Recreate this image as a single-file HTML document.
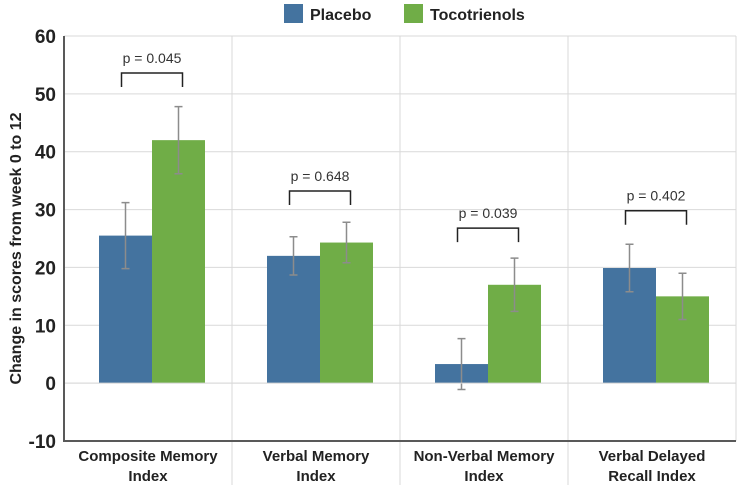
<!DOCTYPE html>
<html><head><meta charset="utf-8"><style>
body{margin:0;background:#fff;font-family:"Liberation Sans",sans-serif}
</style></head><body>
<svg id="chart" width="738" height="490" xmlns="http://www.w3.org/2000/svg"></svg>
<script>
const categories=[["Composite Memory","Index"],["Verbal Memory","Index"],["Non-Verbal Memory","Index"],["Verbal Delayed","Recall Index"]];
const placebo=[25.5,22,3.3,19.9];
const placeboErr=[5.7,3.3,4.4,4.1];
const toco=[42,24.3,17,15];
const tocoErr=[5.8,3.5,4.6,4];
const pLabels=["p = 0.045","p = 0.648","p = 0.039","p = 0.402"];
const pHeights=[53.6,33.2,26.8,29.8];
const yTicks=[60,50,40,30,20,10,0,-10];
const NS="http://www.w3.org/2000/svg";
const svg=document.getElementById('chart');
const L=64,R=736,T=36,B=441,yMin=-10,yMax=60;
const y=v=>B-(v-yMin)/(yMax-yMin)*(B-T);
const cw=(R-L)/categories.length;
const bw=53;
const cx=i=>L+cw*i+cw/2+4;
function el(t,a,txt){const e=document.createElementNS(NS,t);for(const k in a)e.setAttribute(k,a[k]);if(txt!=null)e.textContent=txt;svg.appendChild(e);return e;}
yTicks.forEach(t=>{
 if(t!==yMin){const g=el('line',{x1:L,x2:R,y1:y(t),y2:y(t),stroke:'#d9d9d9','stroke-width':1});
 
 }
 const lb=el('text',{x:L-8,y:y(t)+7,'text-anchor':'end','font-size':19,'font-weight':'bold',fill:'#222'},String(t));
 
 
});
for(let i=1;i<=categories.length;i++){
 const g=el('line',{x1:L+cw*i,x2:L+cw*i,y1:T,y2:i<categories.length?485:B,stroke:'#d9d9d9','stroke-width':1});
 
 
}
const topLine=el('line',{x1:L,x2:R,y1:T,y2:T,stroke:'#d9d9d9'});


categories.forEach((c,i)=>{
 [[placebo,placeboErr,'#44739f',-bw],[toco,tocoErr,'#70ad47',0]].forEach(([vals,errs,col,off],s)=>{
  const v=vals[i],x0=cx(i)+off;
  const r=el('rect',{x:x0,y:Math.min(y(v),y(0)),width:bw,height:Math.abs(y(0)-y(v)),fill:col});
  
  
  const ex=x0+bw/2,e=errs[i];
  const eb=el('path',{d:`M${ex},${y(v+e)}V${y(v-e)}M${ex-4},${y(v+e)}H${ex+4}M${ex-4},${y(v-e)}H${ex+4}`,stroke:'#8c8c8c','stroke-width':1.5,fill:'none'});
  
  
 });
 const px1=cx(i)-bw/2-4,px2=cx(i)+bw/2+4,py=y(pHeights[i]);
 const br=el('path',{d:`M${px1},${py+14}V${py}H${px2}V${py+14}`,stroke:'#222','stroke-width':1.5,fill:'none'});
 
 
 const pt=el('text',{x:cx(i),y:py-10,'text-anchor':'middle','font-size':14,fill:'#333'},pLabels[i]);
 
 
 c.forEach((ln,k)=>{
  const t=el('text',{x:L+cw*i+cw/2,y:461+k*20,'text-anchor':'middle','font-size':15,'font-weight':'bold',fill:'#222'},ln);
  
  
 });
});
const zl=el('line',{x1:L,x2:R,y1:y(0),y2:y(0),stroke:'#d9d9d9'});


const ax=el('path',{d:`M${L},${T}V${B}H${R}`,stroke:'#595959','stroke-width':2,fill:'none'});


const yt=el('text',{x:0,y:0,transform:`translate(21,${(T+B)/2+10}) rotate(-90)`,'text-anchor':'middle','font-size':16,'font-weight':'bold',fill:'#222'},'Change in scores from week 0 to 12');


[['#44739f','Placebo',284],['#70ad47','Tocotrienols',404]].forEach(([c,t,x])=>{
 const s=el('rect',{x:x,y:4,width:19,height:19,fill:c});
 
 
 const lt=el('text',{x:x+26,y:20,'font-size':16,'font-weight':'bold',fill:'#222'},t);
 
 
});
</script>
</body></html>
